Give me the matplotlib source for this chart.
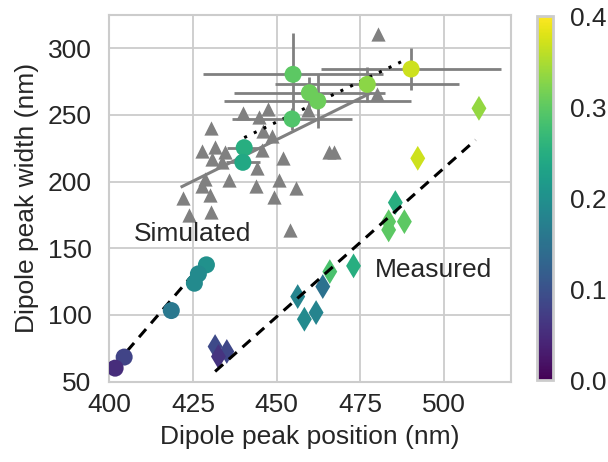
import numpy as np
import matplotlib
matplotlib.use("Agg")
import matplotlib.pyplot as plt
from matplotlib import colors

# ---------------- data ----------------
# Simulated spectra (gray triangles)
tri_x = [480.4, 479.9, 459.3, 439.8, 447.5, 444.7, 430.4, 448.6, 445.6, 431.6,
         427.7, 434.7, 430.7, 433.7, 452.0, 465.8, 467.2, 444.2, 435.7, 443.7,
         450.7, 455.9, 427.7, 430.1, 449.1, 422.0, 430.4, 423.7, 454.1, 445.9,
         428.5]
tri_y = [310.7, 265.5, 253.7, 251.5, 254.4, 248.7, 240.0, 234.5, 223.8, 226.2,
         223.0, 222.5, 216.8, 215.0, 218.0, 222.5, 222.0, 210.0, 201.0, 197.0,
         201.3, 195.3, 196.8, 190.0, 188.8, 187.6, 177.5, 175.0, 163.8, 238.0,
         202.0]
# gray fit through triangles
tri_fit_x = [421.7, 478.0]
tri_fit_y = [196.3, 266.3]

# circles with error bars
ce_x = [454.9, 490.2, 477.1, 459.8, 462.3, 454.6, 440.3, 439.9]
ce_y = [280.5, 284.5, 273.0, 266.7, 260.5, 247.0, 225.5, 214.5]
ce_xerr = [27.0, 27.0, 27.5, 22.5, 28.0, 18.0, 5.0, 5.0]
ce_yerr = [31.0, 16.0, 13.0, 12.0, 20.0, 8.0, 4.0, 4.0]
ce_c = [0.30, 0.37, 0.33, 0.31, 0.31, 0.29, 0.25, 0.24]
# dotted fit through circles with error bars
ce_fit_x = [440.3, 488.8]
ce_fit_y = [233.0, 291.8]

# circles, lower group
cl_x = [429.0, 426.6, 425.4, 418.5, 404.4, 401.7]
cl_y = [137.6, 130.8, 123.8, 103.3, 68.4, 60.1]
cl_c = [0.20, 0.19, 0.19, 0.16, 0.08, 0.05]
cl_fit_x = [401.7, 429.0]
cl_fit_y = [62.5, 142.0]

# measured (diamonds)
dm_x = [510.5, 492.2, 485.5, 483.5, 483.5, 488.2, 473.0, 465.9, 463.8, 456.3,
        461.8, 458.3, 431.6, 435.1, 432.6]
dm_y = [255.0, 217.5, 184.3, 170.0, 163.8, 170.0, 136.8, 132.5, 121.3, 113.8,
        101.8, 96.8, 76.3, 72.6, 68.8]
dm_c = [0.335, 0.37, 0.25, 0.30, 0.30, 0.30, 0.25, 0.285, 0.15, 0.18,
        0.18, 0.19, 0.09, 0.085, 0.06]
dm_fit_x = [431.6, 509.5]
dm_fit_y = [57.6, 231.3]

x_ticks = [400, 425, 450, 475, 500]
y_ticks = [50, 100, 150, 200, 250, 300]
cb_ticks = [0.0, 0.1, 0.2, 0.3, 0.4]

# ---------------- style ----------------
plt.rcParams['font.family'] = ['Liberation Sans', 'DejaVu Sans']
FS = 19
grid_c = '#cccccc'

fig = plt.figure(figsize=(6.08, 4.62), dpi=100)
ax = fig.add_axes([0.18, 0.174, 0.66, 0.7935])
cax = fig.add_axes([0.883, 0.177, 0.027, 0.788])

norm = colors.Normalize(vmin=0.0, vmax=0.4)
cmap = plt.get_cmap('viridis')

ax.set_axisbelow(True)
ax.grid(True, color=grid_c, linewidth=1.3)
for s in ax.spines.values():
    s.set_color(grid_c)
    s.set_linewidth(1.5)

ax.scatter(tri_x, tri_y, marker='^', s=105, color='#808080', linewidths=0, zorder=2)
ax.plot(tri_fit_x, tri_fit_y, color='#808080', lw=2.2, zorder=3)

ax.errorbar(ce_x, ce_y, xerr=ce_xerr, yerr=ce_yerr, fmt='none',
            ecolor='#808080', elinewidth=2.0, capsize=0, zorder=3)
ax.plot(ce_fit_x, ce_fit_y, color='black', lw=2.2, linestyle=(0, (1, 2.5)), zorder=4)
ax.scatter(ce_x, ce_y, c=ce_c, cmap=cmap, norm=norm, s=150, marker='o',
           linewidths=0, zorder=5)

ax.plot(cl_fit_x, cl_fit_y, color='black', lw=2.2, linestyle=(0, (3.5, 2.5)), zorder=4)
ax.scatter(cl_x, cl_y, c=cl_c, cmap=cmap, norm=norm, s=150, marker='o',
           linewidths=0, zorder=5)

sc = ax.scatter(dm_x, dm_y, c=dm_c, cmap=cmap, norm=norm, s=160, marker='d',
                linewidths=0, zorder=3)
ax.plot(dm_fit_x, dm_fit_y, color='black', lw=2.2, linestyle=(0, (3.5, 2.5)), zorder=4)

ax.text(407.2, 160.5, 'Simulated', fontsize=FS, color='#262626', va='center', ha='left')
ax.text(479.5, 134.0, 'Measured', fontsize=FS, color='#262626', va='center', ha='left')

ax.set_xlim(400, 520)
ax.set_ylim(50, 325)
ax.set_xticks(x_ticks)
ax.set_yticks(y_ticks)
ax.tick_params(axis='both', length=0, labelsize=FS, labelcolor='#262626')
ax.tick_params(axis='x', pad=8)
ax.tick_params(axis='y', pad=13)
ax.set_xlabel('Dipole peak position (nm)', fontsize=FS, color='#262626', labelpad=6)
ax.set_ylabel('Dipole peak width (nm)', fontsize=FS, color='#262626', labelpad=6)

cb = fig.colorbar(sc, cax=cax)
cb.set_ticks(cb_ticks)
cb.ax.tick_params(length=0, labelsize=FS, labelcolor='#262626', pad=12)
cb.outline.set_edgecolor(grid_c)
cb.outline.set_linewidth(2.0)

fig.savefig('out.png', dpi=100)
